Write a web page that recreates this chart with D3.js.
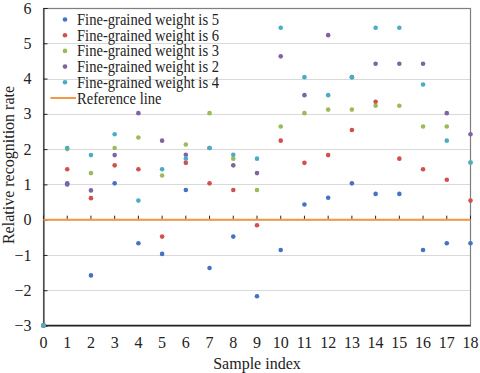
<!DOCTYPE html>
<html>
<head>
<meta charset="utf-8">
<script src="https://cdn.jsdelivr.net/npm/d3@7"></script>
</head>
<body style="margin:0;background:#fff">
<svg id="chart" width="480" height="373"></svg>
<script>
// sample index 0..18
const samples = d3.range(0, 19)

const weight5 = [-3, 1.0, -1.58, 1.03, -0.67, -0.97, 0.84, -1.37, -0.48, -2.17, -0.86, 0.43, 0.62, 1.03, 0.73, 0.73, -0.86, -0.67, -0.67]
const weight6 = [-3, 1.43, 0.61, 1.54, 1.43, -0.48, 1.61, 1.03, 0.84, -0.16, 2.24, 1.61, 1.83, 2.54, 3.34, 1.73, 1.43, 1.13, 0.54]
const weight3 = [-3, 2.0, 1.32, 2.03, 2.33, 1.25, 2.13, 3.02, 1.73, 0.84, 2.64, 3.02, 3.12, 3.12, 3.23, 3.23, 2.64, 2.64, 1.62]
const weight2 = [-3, 1.03, 0.83, 1.83, 3.02, 2.24, 1.84, 2.03, 1.54, 1.32, 4.63, 3.53, 5.23, 4.04, 4.42, 4.42, 4.42, 3.02, 2.42]
const weight4 = [-3, 2.03, 1.83, 2.42, 0.54, 1.43, 1.73, 2.03, 1.84, 1.73, 5.44, 4.04, 3.53, 4.04, 5.44, 5.44, 3.83, 2.24, 1.62]

const seriesNames = ["Fine-grained weight is 5", "Fine-grained weight is 6", "Fine-grained weight is 3", "Fine-grained weight is 2", "Fine-grained weight is 4"]
const seriesValues = [weight5, weight6, weight3, weight2, weight4]
const seriesColors = ["#4472c4", "#d0504d", "#9bbb59", "#8064a2", "#4bacc6"]
const yTicks = [-3, -2, -1, 0, 1, 2, 3, 4, 5, 6]
const refValue = 0

const svg = d3.select("#chart")
const plotLeft = 43.5, plotRight = 470.5, plotTop = 8, plotBottom = 325.5
const serif = "'Liberation Serif'"

const x = d3.scaleLinear().domain([0, 18]).range([plotLeft, plotRight])
const y = d3.scaleLinear().domain([-3, 6]).range([plotBottom, plotTop])

// gridlines
svg.append("g")
  .selectAll("line")
  .data(yTicks.filter(t => t > -3 && t < 6))
  .join("line")
  .attr("x1", plotLeft).attr("x2", plotRight)
  .attr("y1", d => Math.round(y(d)) + 0.5).attr("y2", d => Math.round(y(d)) + 0.5)
  .attr("stroke", "#d9d9d9")

// frame
svg.append("rect")
  .attr("x", plotLeft).attr("y", plotTop + 0.5)
  .attr("width", plotRight - plotLeft).attr("height", plotBottom - plotTop)
  .attr("fill", "none").attr("stroke", "#7f7f7f").attr("stroke-width", 1.2)

// y axis
const yAxis = svg.append("g")
  .attr("transform", `translate(${plotLeft},0)`)
  .call(d3.axisLeft(y).tickValues(yTicks).tickSize(-4).tickPadding(12))
yAxis.attr("font-size", 16)
yAxis.select(".domain").attr("stroke", "#222")
yAxis.selectAll(".tick line").attr("stroke", "#222")

// bottom line
svg.append("line")
  .attr("x1", plotLeft).attr("x2", plotRight)
  .attr("y1", plotBottom).attr("y2", plotBottom)
  .attr("stroke", "#222").attr("stroke-width", 1.5)

// x ticks on the zero line, labels below the plot
svg.append("g")
  .selectAll("line")
  .data(samples)
  .join("line")
  .attr("x1", d => x(d)).attr("x2", d => x(d))
  .attr("y1", y(refValue) - 4).attr("y2", y(refValue))
  .attr("stroke", "#222")

svg.append("g")
  .selectAll("text")
  .data(samples)
  .join("text")
  .attr("x", d => x(d))
  .attr("y", 348)
  .attr("text-anchor", "middle")
  .attr("font-size", 16)
  .text(d => d)

// reference line
svg.append("line")
  .attr("x1", plotLeft).attr("x2", plotRight)
  .attr("y1", y(refValue)).attr("y2", y(refValue))
  .attr("stroke", "#f79646").attr("stroke-width", 2)

// points
seriesValues.forEach((vals, i) => {
  svg.append("g")
    .selectAll("circle")
    .data(vals)
    .join("circle")
    .attr("cx", (d, j) => x(samples[j]))
    .attr("cy", d => y(d))
    .attr("r", 2.3)
    .attr("fill", seriesColors[i])
})

// axis titles
svg.append("text")
  .attr("x", 257).attr("y", 369)
  .attr("text-anchor", "middle")
  .attr("font-size", 16)
  .text("Sample index")

svg.append("text")
  .attr("transform", "translate(14,165) rotate(-90)")
  .attr("text-anchor", "middle")
  .attr("font-size", 16)
  .text("Relative recognition rate")

// legend
const legend = svg.append("g").attr("font-size", 16)
seriesNames.forEach((name, i) => {
  const ly = 19.5 + i * 15.7
  legend.append("circle").attr("cx", 65).attr("cy", ly).attr("r", 2.3).attr("fill", seriesColors[i])
  legend.append("text").attr("class", "lg").attr("x", 77).attr("y", ly + 5.5).text(name)
})
const refY = 19.5 + 5 * 15.7
legend.append("line").attr("x1", 50.5).attr("x2", 76).attr("y1", refY).attr("y2", refY)
  .attr("stroke", "#f79646").attr("stroke-width", 2)
legend.append("text").attr("class", "lg").attr("x", 77).attr("y", refY + 5.5).text("Reference line")

svg.selectAll("text").style("font-family", serif).style("fill", "#222")

// the legend text is a bit narrower in the original
const lgTexts = legend.selectAll("text.lg")
const k = 142 / lgTexts.node().getComputedTextLength()
if (k < 1) {
  lgTexts.each(function() {
    d3.select(this).attr("textLength", this.getComputedTextLength() * k).attr("lengthAdjust", "spacingAndGlyphs")
  })
}
</script>
</body>
</html>
